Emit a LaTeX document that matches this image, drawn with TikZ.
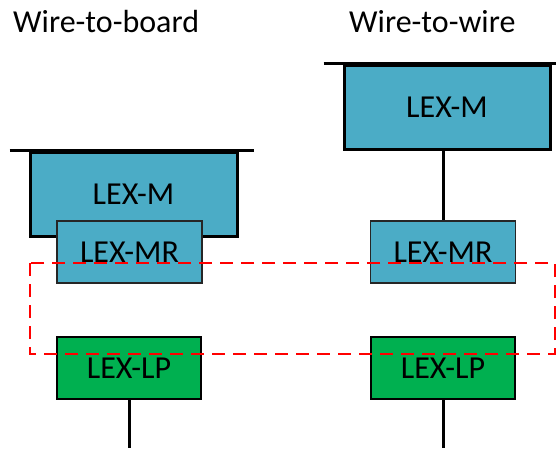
\documentclass[tikz,border=0pt]{standalone}
\usepackage{fontspec}
\setmainfont{Carlito}
\usetikzlibrary{calc}
\definecolor{mblue}{HTML}{4BACC6}
\definecolor{lpgreen}{HTML}{00B050}
\tikzset{
  lbl/.style={font=\fontsize{32}{38}\selectfont},
  mbox/.style={draw=black, line width=3pt, fill=mblue, minimum width=207pt, minimum height=84pt, inner sep=0pt, lbl},
  mrbox/.style={draw=black!85, line width=1.5pt, fill=mblue, minimum width=145pt, minimum height=62pt, inner sep=0pt, lbl},
  lpbox/.style={draw=black, line width=2pt, fill=lpgreen, minimum width=144pt, minimum height=62pt, inner sep=0pt, lbl},
  wire/.style={line width=3pt},
  zone/.style={draw=red, line width=2pt, dash pattern=on 13pt off 8pt},
}
\begin{document}
\begin{tikzpicture}[x=1pt,y=-1pt]
\useasboundingbox (0,0) rectangle (556,448);
% titles
\node[lbl, anchor=base west, inner sep=0pt] (t1) at (13,32) {Wire-to-board};
\node[lbl, anchor=base west, inner sep=0pt] (t2) at (349,32) {Wire-to-wire};
% left column
\node[mbox] (lm) at (133.5,194) {LEX-M};
\draw[wire] ($(lm.north west)+(-19,0)$) -- ($(lm.north east)+(15,0)$);
\node[mrbox] (lmr) at (129.5,252) {LEX-MR};
\node[lpbox] (llp) at (129,368) {LEX-LP};
\coordinate (lend) at (129,448);
\draw[wire] (llp.south) -- (lend);
% right column
\node[mbox, minimum width=206pt] (rm) at (447,107) {LEX-M};
\draw[wire] ($(rm.north west)+(-19,0)$) -- ($(rm.north east)+(6,0)$);
\node[mrbox] (rmr) at (443,252) {LEX-MR};
\draw[wire] (rm.south -| rmr.north) -- (rmr.north);
\node[lpbox] (rlp) at (443,368) {LEX-LP};
\coordinate (rend) at (443,448);
\draw[wire] (rlp.south) -- (rend);
% dashed zone
\draw[zone] (30,263) rectangle (555,354);
\end{tikzpicture}
\end{document}
